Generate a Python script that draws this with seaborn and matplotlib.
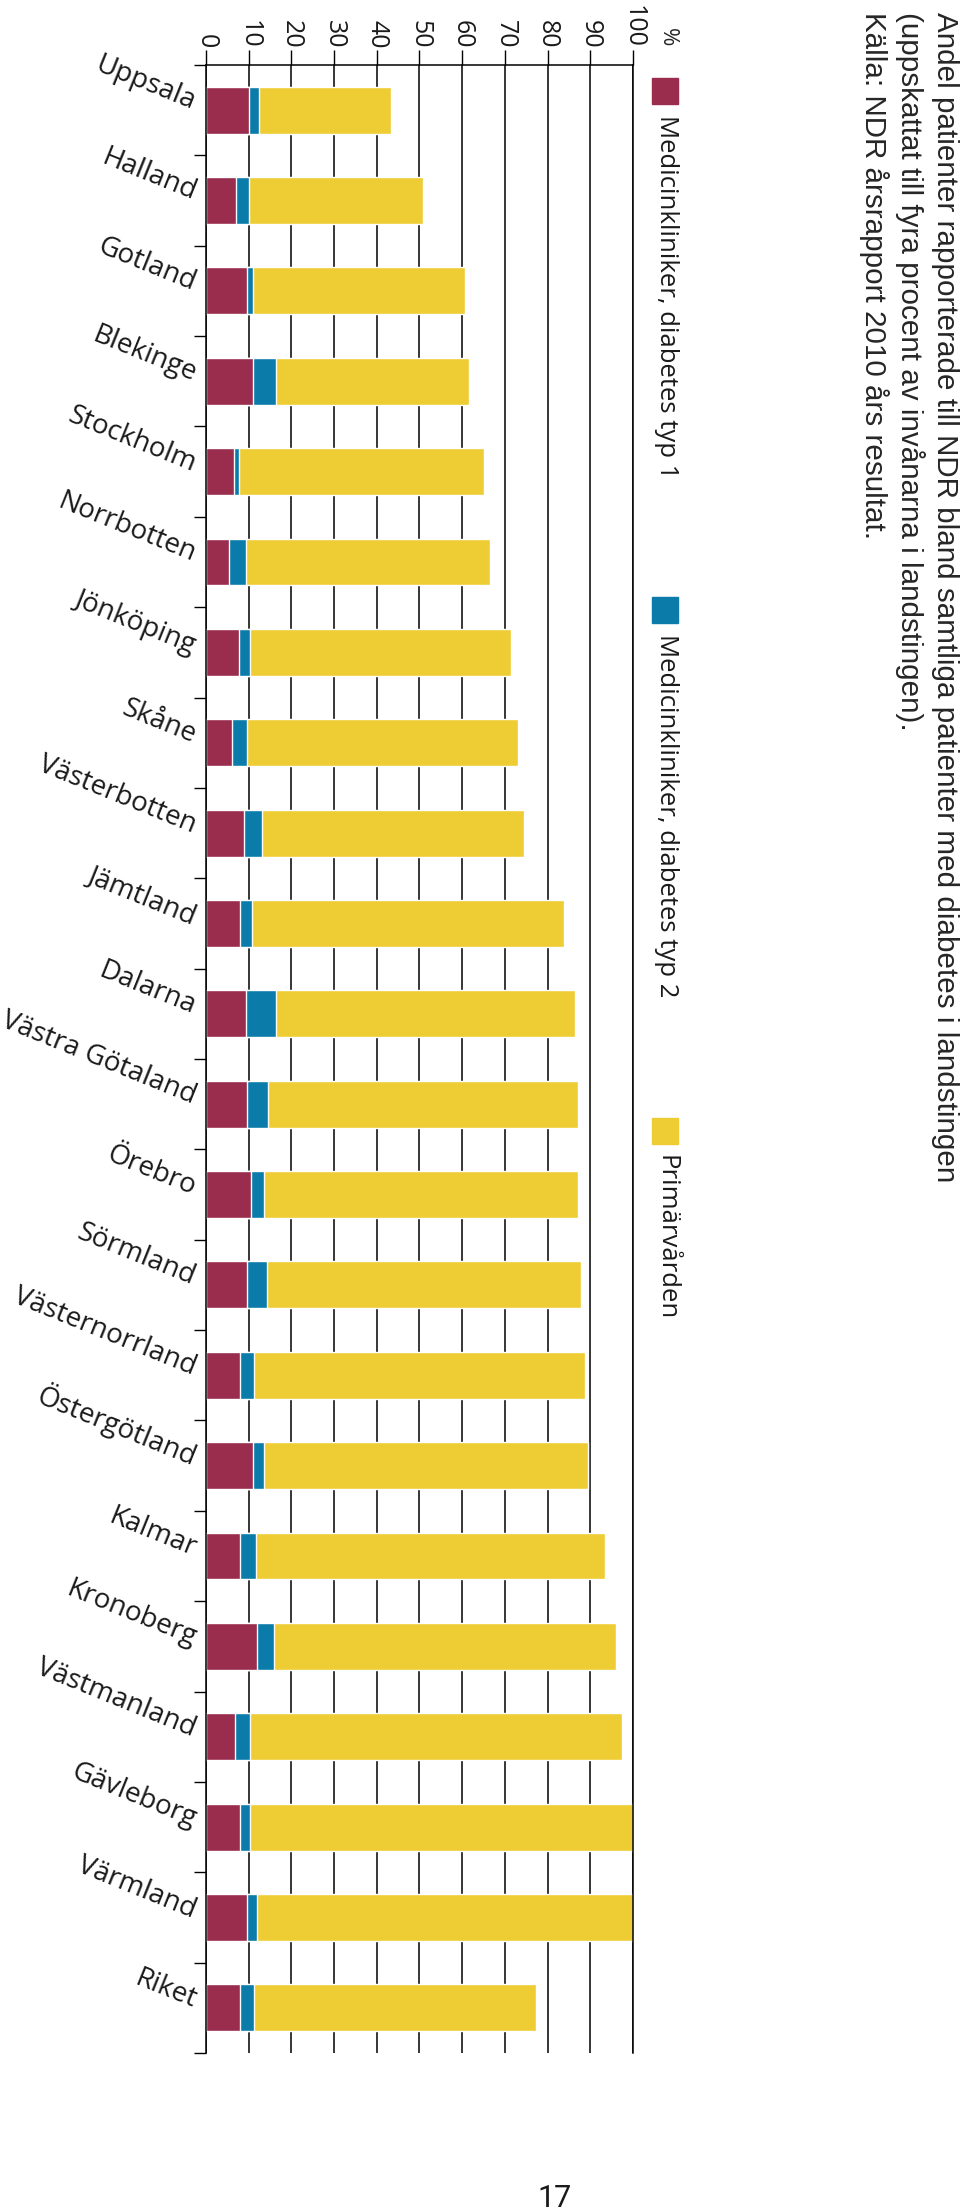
import numpy as np
import pandas as pd
import seaborn as sns
import matplotlib.pyplot as plt
from matplotlib.patches import Rectangle

# data (percent of patients)
regions = ["Uppsala", "Halland", "Gotland", "Blekinge", "Stockholm", "Norrbotten",
           "Jönköping", "Skåne", "Västerbotten", "Jämtland", "Dalarna",
           "Västra Götaland", "Örebro", "Sörmland", "Västernorrland",
           "Östergötland", "Kalmar", "Kronoberg", "Västmanland", "Gävleborg",
           "Värmland", "Riket"]
typ1 = [10.0, 7.0, 9.5, 11.0, 6.6, 5.4, 7.7, 6.0, 9.0, 8.0, 9.3,
        9.6, 10.6, 9.6, 8.0, 11.0, 8.0, 11.9, 6.7, 8.0, 9.6, 8.0]
typ2 = [2.3, 3.0, 1.5, 5.5, 1.1, 3.9, 2.5, 3.6, 4.2, 2.7, 7.0,
        4.9, 3.0, 4.6, 3.3, 2.6, 3.6, 4.1, 3.6, 2.3, 2.4, 3.3]
primar = [31.1, 40.9, 49.6, 45.2, 57.3, 57.3, 61.3, 63.5, 61.3, 73.1, 70.2,
          72.6, 73.5, 73.6, 77.4, 75.8, 81.8, 80.1, 87.1, 89.7, 88.0, 66.1]
xticks = [0, 10, 20, 30, 40, 50, 60, 70, 80, 90, 100]

legend_labels = ["Medicinkliniker, diabetes typ 1",
                 "Medicinkliniker, diabetes typ 2",
                 "Primärvården"]
title = ("Andel patienter rapporterade till NDR bland samtliga patienter med diabetes i landstingen\n"
         "(uppskattat till fyra procent av invånarna i landstingen).\n"
         "Källa: NDR årsrapport 2010 års resultat.")

c_t1 = "#9a2c4e"
c_t2 = "#0b7caa"
c_pv = "#eecd34"

df = pd.DataFrame({"region": regions, "typ1": typ1, "typ2": typ2, "primar": primar})
df["cum2"] = df["typ1"] + df["typ2"]
df["total"] = df["cum2"] + df["primar"]

sns.set_style("white")
plt.rcParams["font.family"] = ["Open Sans", "DejaVu Sans"]

W, H = 960, 2209
fig = plt.figure(figsize=(W / 100, H / 100), dpi=100)
ax = fig.add_axes([206 / W, (H - 2053) / H, (633 - 206) / W, (2053 - 65) / H])

# stacked bars: draw totals first, then overlay the cumulative parts
sns.barplot(data=df, x="total", y="region", color=c_pv, saturation=1,
            width=0.52, errorbar=None, ax=ax)
sns.barplot(data=df, x="cum2", y="region", color=c_t2, saturation=1,
            width=0.52, errorbar=None, ax=ax)
sns.barplot(data=df, x="typ1", y="region", color=c_t1, saturation=1,
            width=0.52, errorbar=None, ax=ax)

n = len(regions)
ax.set_xlim(0, 100)
ax.set_ylim(n - 0.5, -0.5)
ax.set_xlabel("")
ax.set_ylabel("")

ax.xaxis.tick_top()
ax.set_xticks(xticks)
ax.set_xticklabels([str(t) for t in xticks])
ax.tick_params(axis="x", top=True, bottom=False, direction="out", length=11,
               width=1, color="black", pad=1, labelsize=18, labelrotation=-90,
               labelcolor="#1a1a1a")
ax.grid(axis="x", color="black", linewidth=1.1)
ax.grid(axis="y", visible=False)
ax.set_axisbelow(True)

ax.set_yticks(range(n))
ax.set_yticks(np.arange(-0.5, n, 1), minor=True)
ax.set_yticklabels(regions, rotation=-22, ha="right", va="baseline",
                   rotation_mode="anchor", fontsize=20, color="#1a1a1a")
ax.tick_params(axis="y", which="major", length=0, pad=10)
ax.tick_params(axis="y", which="minor", length=9, width=1, color="black",
               direction="out", left=True)

for side in ["top", "left", "right"]:
    ax.spines[side].set_visible(True)
    ax.spines[side].set_color("black")
    ax.spines[side].set_linewidth(1.1)
ax.spines["bottom"].set_visible(False)

# "%" unit label
fig.text(667 / W, 1 - 28 / H, "%", rotation=-90, ha="center", va="top",
         fontsize=16)

# legend, rotated like the chart
sq_y = [78, 597, 1118]
for col, lab, y0 in zip([c_t1, c_t2, c_pv], legend_labels, sq_y):
    fig.patches.append(Rectangle((652 / W, 1 - (y0 + 26) / H), 26 / W, 26 / H,
                                 transform=fig.transFigure, color=col))
    fig.text(666 / W, 1 - (y0 + 37) / H, lab, rotation=-90, ha="center",
             va="top", fontsize=18.5, color="#1a1a1a")

fig.text(959 / W, 1 - 12 / H, title, rotation=-90, ha="right", va="top",
         multialignment="left", fontsize=21.3, linespacing=1.24,
         family=["Liberation Sans", "DejaVu Sans"])

fig.text(555 / W, 2 / H, "17", ha="center", va="baseline", fontsize=22,
         family=["Roboto", "DejaVu Sans"], color="#1a1a1a")

fig.savefig("out.png", dpi=100, facecolor="white")
